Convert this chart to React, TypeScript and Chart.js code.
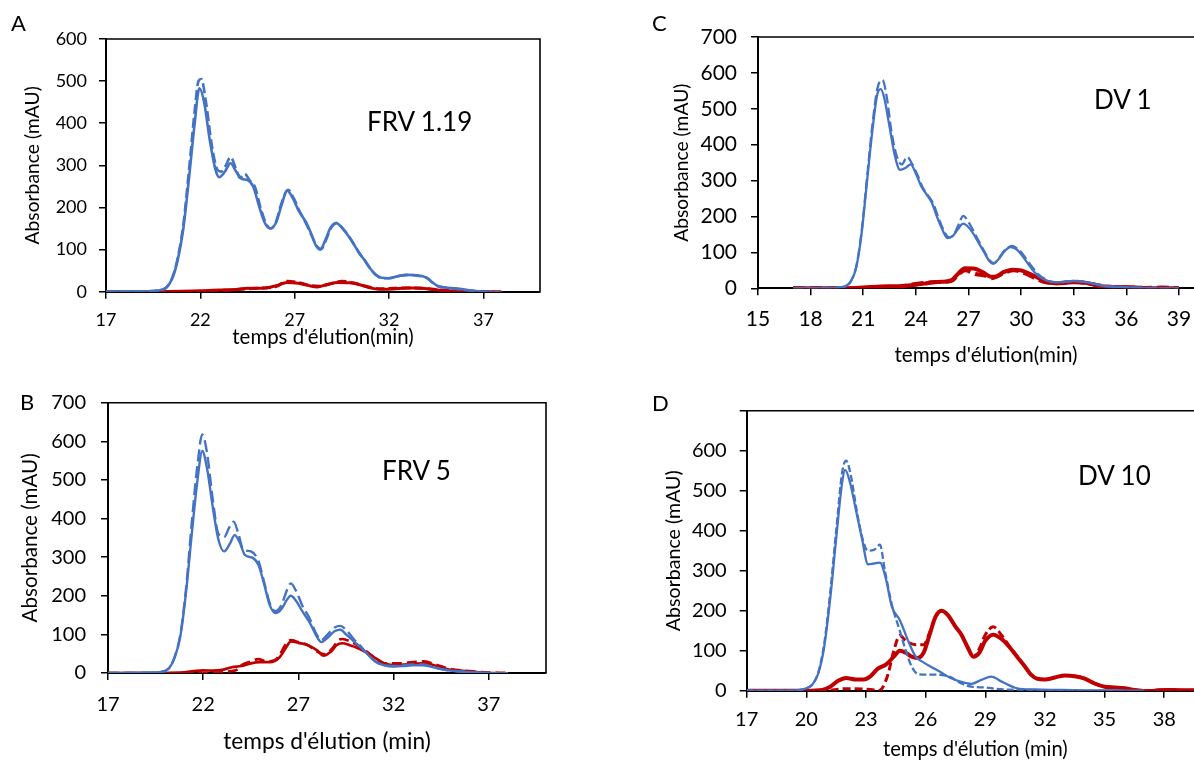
import React, { useEffect, useRef } from "react";
import { Chart, registerables } from "chart.js";

Chart.register(...registerables);

type Pt = [number, number];

const BLUE = "#4472C4";
const RED = "#C00000";
const FONT = "Lato, 'Open Sans', sans-serif";

// ---------------- Tick labels ----------------
const A_X_TICKS = [17, 22, 27, 32, 37];
const A_Y_TICKS = [0, 100, 200, 300, 400, 500, 600];
const B_X_TICKS = [17, 22, 27, 32, 37];
const B_Y_TICKS = [0, 100, 200, 300, 400, 500, 600, 700];
const C_X_TICKS = [15, 18, 21, 24, 27, 30, 33, 36, 39];
const C_Y_TICKS = [0, 100, 200, 300, 400, 500, 600, 700];
const D_X_TICKS = [17, 20, 23, 26, 29, 32, 35, 38];
const D_Y_TICKS = [0, 100, 200, 300, 400, 500, 600, 700];
const D_Y_HIDDEN = [700];

// ---------------- Panel A : FRV 1.19 ----------------
const A_BLUE_SOLID: Pt[] = [[17,0],[18,1],[19,1],[19.8,3],[20.2,10],[20.5,30],[20.8,75],[21.1,150],[21.4,270],[21.7,400],[21.95,483],[22.2,450],[22.5,360],[22.8,290],[23.0,272],[23.3,285],[23.6,305],[23.9,285],[24.2,268],[24.5,265],[24.8,250],[25.1,205],[25.4,165],[25.7,150],[26.0,163],[26.3,205],[26.6,240],[26.9,222],[27.2,193],[27.6,165],[27.9,135],[28.1,112],[28.35,100],[28.6,120],[28.9,152],[29.2,163],[29.5,152],[29.8,135],[30.1,115],[30.4,93],[30.7,75],[31.0,55],[31.3,40],[31.6,33],[32.0,32],[32.5,37],[33.0,40],[33.5,39],[34.0,33],[34.3,22],[34.6,13],[35.0,10],[35.5,8],[36.0,5],[36.5,2],[37.0,0],[37.5,-1],[37.8,-2]];
const A_BLUE_DASH: Pt[] = [[17,0],[18,1],[19,1],[19.8,3],[20.2,10],[20.5,32],[20.8,80],[21.1,160],[21.4,290],[21.7,430],[21.9,500],[22.05,505],[22.3,450],[22.6,350],[22.9,290],[23.1,285],[23.35,300],[23.6,320],[23.9,290],[24.1,270],[24.35,280],[24.6,265],[24.9,248],[25.2,198],[25.5,160],[25.75,150],[26.0,165],[26.3,210],[26.65,242],[26.95,222],[27.25,192],[27.6,162],[27.9,133],[28.15,110],[28.4,101],[28.65,122],[28.95,153],[29.25,163],[29.55,150],[29.85,133],[30.15,112],[30.45,90],[30.75,72],[31.05,52],[31.35,38],[31.65,32],[32.0,32],[32.5,37],[33.0,40],[33.5,38],[34.0,33],[34.3,22],[34.6,13],[35.0,10],[35.5,7],[36.0,4],[36.5,2],[37.0,0],[37.5,-1],[38.0,-2]];
const A_RED_SOLID: Pt[] = [[17,0],[19,0],[21,1],[22,2],[23,4],[24,6],[24.5,8],[25,8],[25.5,9],[26,14],[26.6,22],[27.2,20],[27.7,15],[28.2,11],[28.7,17],[29.3,22],[29.9,21],[30.5,16],[31.0,9],[31.5,6],[32.0,6],[33.0,9],[33.6,9],[34.2,6],[35.0,2],[36.0,1],[37.0,0],[37.6,0]];
const A_RED_DASH: Pt[] = [[17,0],[22,0],[23,1],[24,5],[25,8],[26,12],[26.6,25],[27.2,22],[27.8,15],[28.3,13],[29.0,20],[29.5,25],[30.0,22],[30.6,15],[31.5,7],[33,9],[34,7],[35,3],[36,1],[37,0],[38,0]];

// ---------------- Panel B : FRV 5 ----------------
const B_BLUE_SOLID: Pt[] = [[17,0],[19,1],[19.8,3],[20.2,12],[20.5,40],[20.8,95],[21.1,210],[21.4,360],[21.7,500],[21.95,575],[22.2,530],[22.5,430],[22.8,345],[23.1,315],[23.4,335],[23.65,357],[23.9,340],[24.2,305],[24.6,298],[24.9,280],[25.2,230],[25.5,175],[25.8,155],[26.1,165],[26.4,190],[26.6,200],[26.9,185],[27.2,160],[27.6,130],[27.9,100],[28.2,80],[28.5,90],[28.9,108],[29.2,112],[29.5,100],[29.9,82],[30.3,65],[30.7,45],[31.1,28],[31.5,20],[32.0,17],[32.5,18],[33.0,20],[33.5,20],[34.0,16],[34.5,10],[35.0,6],[35.5,4],[36.0,2],[36.5,1],[37.0,0],[37.6,-1],[38.0,-1]];
const B_BLUE_DASH: Pt[] = [[17,0],[19,1],[19.8,3],[20.2,12],[20.5,42],[20.8,100],[21.1,220],[21.4,390],[21.7,540],[21.95,618],[22.2,570],[22.5,450],[22.8,360],[23.1,352],[23.35,375],[23.6,392],[23.85,360],[24.1,320],[24.5,315],[24.9,290],[25.2,235],[25.5,180],[25.8,160],[26.1,175],[26.4,215],[26.6,232],[26.9,210],[27.2,175],[27.6,140],[27.9,105],[28.2,85],[28.5,98],[28.9,118],[29.2,122],[29.5,112],[29.9,88],[30.3,68],[30.7,45],[31.1,28],[31.5,20],[32.0,18],[32.5,20],[33.0,22],[33.5,22],[34.0,17],[34.5,10],[35.0,6],[35.5,4],[36.0,2],[36.5,1],[37.0,0],[37.6,-1],[38.0,-1]];
const B_RED_SOLID: Pt[] = [[17,0],[20,0],[21,2],[21.5,5],[22,7],[22.5,6],[23,8],[23.5,15],[24,18],[24.5,25],[25,28],[25.5,28],[26,40],[26.4,70],[26.6,82],[27,78],[27.5,72],[28,58],[28.3,45],[28.7,55],[29,72],[29.3,77],[29.7,72],[30.1,65],[30.5,55],[31,40],[31.5,25],[32,20],[32.5,22],[33,24],[33.5,25],[34,22],[34.5,14],[35,8],[35.5,6],[36,4],[36.5,2],[37,0],[37.5,0]];
const B_RED_DASH: Pt[] = [[17,0],[22,0],[23,2],[23.5,5],[23.75,8],[24,20],[24.5,30],[24.9,36],[25.3,30],[25.7,32],[26,45],[26.3,72],[26.6,85],[27,80],[27.5,72],[28,55],[28.4,48],[28.8,65],[29.1,85],[29.3,88],[29.8,80],[30.4,62],[31,40],[31.5,25],[32.3,25],[33,28],[33.6,30],[34.2,22],[35,10],[36,5],[37,1],[38,0]];

// ---------------- Panel C : DV 1 ----------------
const C_BLUE_SOLID: Pt[] = [[17,0],[19,1],[19.5,2],[20,6],[20.3,20],[20.6,58],[20.9,150],[21.2,290],[21.5,430],[21.8,540],[22.0,555],[22.2,530],[22.5,450],[22.8,370],[23.1,330],[23.4,335],[23.7,345],[24.0,320],[24.3,285],[24.6,262],[24.9,240],[25.2,200],[25.5,165],[25.8,140],[26.1,145],[26.4,165],[26.7,180],[27.0,170],[27.3,150],[27.6,125],[27.9,100],[28.2,75],[28.4,68],[28.7,80],[29.0,100],[29.4,115],[29.7,110],[30.0,95],[30.3,75],[30.6,55],[30.9,38],[31.3,25],[31.7,18],[32.2,17],[33.0,20],[33.6,18],[34.2,12],[34.8,6],[35.5,4],[36.5,2],[37.5,0],[38.5,0],[39.0,0]];
const C_BLUE_DASH: Pt[] = [[17,0],[19,1],[19.5,2],[20,6],[20.3,20],[20.6,60],[20.9,155],[21.2,300],[21.5,445],[21.8,555],[22.1,580],[22.35,530],[22.6,440],[22.9,370],[23.2,345],[23.5,366],[23.8,345],[24.1,315],[24.4,280],[24.7,258],[25.0,235],[25.3,195],[25.6,160],[25.9,142],[26.2,152],[26.5,185],[26.7,202],[27.0,185],[27.3,158],[27.6,130],[27.9,103],[28.2,78],[28.45,70],[28.75,85],[29.1,108],[29.5,118],[29.8,110],[30.1,95],[30.4,75],[30.7,55],[31.0,38],[31.4,25],[31.8,18],[32.3,17],[33.0,21],[33.6,18],[34.2,12],[34.8,6],[35.5,4],[36.5,2],[37.5,1],[38.5,0],[39.0,0]];
const C_RED_SOLID: Pt[] = [[17,0],[20,0],[21,2],[22,5],[23,6],[24,10],[24.5,13],[25,17],[25.5,18],[26,22],[26.4,40],[26.8,56],[27.3,55],[27.8,45],[28.3,32],[28.6,33],[29,45],[29.5,52],[30,50],[30.5,40],[31,28],[31.5,18],[32,14],[32.5,15],[33,17],[33.5,16],[34,12],[34.5,6],[35,4],[36,3],[37,1],[38,0],[39,0]];
const C_RED_DASH: Pt[] = [[17,0],[22,0],[23,2],[23.5,8],[24,12],[25,17],[26,20],[26.5,42],[26.8,50],[27.4,40],[28,35],[28.3,28],[29,42],[29.6,50],[30.2,42],[30.8,28],[31.3,18],[32,14],[33,18],[34,12],[35,4],[36,3],[37,1],[38,2],[39,0]];

// ---------------- Panel D : DV 10 ----------------
const D_BLUE_SOLID: Pt[] = [[17,0],[19,0],[19.7,2],[20,6],[20.3,15],[20.6,43],[20.9,110],[21.2,230],[21.5,380],[21.8,520],[21.95,552],[22.2,520],[22.5,450],[22.8,380],[23.1,316],[23.4,318],[23.7,320],[24.0,280],[24.3,210],[24.7,177],[25.1,127],[25.5,85],[25.85,72],[26.4,56],[26.8,45],[27.2,33],[27.8,22],[28.3,17],[28.8,27],[29.3,35],[29.85,22],[30.6,6],[31.5,3],[32.5,2],[34.0,1],[35.0,1],[36.0,0],[37,0]];
const D_BLUE_DASH: Pt[] = [[17,0],[19,0],[19.7,2],[20,6],[20.3,16],[20.6,46],[20.9,118],[21.2,245],[21.5,400],[21.8,545],[22.0,575],[22.25,535],[22.5,460],[22.8,385],[23.1,350],[23.4,352],[23.7,365],[23.95,300],[24.3,215],[24.7,150],[25.0,100],[25.3,60],[25.6,42],[26.0,40],[26.6,40],[27.2,35],[27.8,18],[28.3,10],[29.0,8],[29.5,5],[30,3],[31,2],[32,0],[36,0]];
const D_RED_SOLID: Pt[] = [[17,0],[20,0],[20.8,2],[21.2,10],[21.6,25],[22.0,32],[22.5,28],[22.9,28],[23.2,35],[23.6,55],[24.0,65],[24.4,85],[24.7,100],[25.0,95],[25.3,85],[25.6,82],[25.9,95],[26.2,140],[26.5,185],[26.8,200],[27.1,190],[27.5,160],[27.8,140],[28.1,110],[28.4,85],[28.7,95],[29.0,125],[29.4,140],[29.8,130],[30.2,110],[30.6,85],[31.0,60],[31.3,40],[31.6,30],[32.0,28],[32.5,33],[33.0,38],[33.5,36],[34.0,30],[34.5,18],[35.0,10],[35.5,8],[36.0,6],[36.5,2],[37.0,-1],[37.5,0],[38.0,2],[39.0,1],[40,1]];
const D_RED_DASH: Pt[] = [[17,0],[21,0],[21.5,3],[22,5],[23,4],[23.4,2],[23.6,0],[23.8,5],[24.1,40],[24.4,100],[24.7,138],[25.0,125],[25.5,115],[25.9,115],[26.2,145],[26.5,185],[26.8,200],[27.1,190],[27.5,160],[27.8,140],[28.1,110],[28.4,85],[28.7,105],[29.0,140],[29.4,160],[29.8,140],[30.2,112],[30.6,85],[31.0,60],[31.3,40],[31.6,30],[32.0,28],[32.5,33],[33.0,38],[33.5,36],[34.0,30],[34.5,18],[35.0,10],[35.5,8],[36.0,6],[36.5,2],[37.0,-1],[37.5,0],[38.0,2],[39.0,1],[40,1]];

// ---------------- Panel configuration ----------------
interface SeriesDef { data: Pt[]; color: string; width: number; dash: number[] }
interface PanelDef {
  key: string;
  letter: string; letterPos: [number, number];
  label: string; labelPos: [number, number];
  canvas: { left: number; top: number; w: number; h: number };
  padTop: number; padRight: number; yAxisW: number; xAxisH: number;
  xMin: number; xMax: number; yMax: number;
  xTicks: number[]; yTicks: number[]; yHidden: number[];
  tickFont: number; xTitleFont: number; yTitleFont: number;
  xTickPad: number; yTickPad: number; xTitlePadBottom: number; yTitlePadTop: number;
  xTitle: string;
  series: SeriesDef[];
}

const PANELS: PanelDef[] = [
  {
    key: "A", letter: "A", letterPos: [11, 12.2], label: "FRV 1.19", labelPos: [367, 108],
    canvas: { left: 0, top: 0, w: 560, h: 350 },
    padTop: 39, padRight: 20, yAxisW: 106, xAxisH: 58.3,
    xMin: 17, xMax: 40, yMax: 600, xTicks: A_X_TICKS, yTicks: A_Y_TICKS, yHidden: [],
    tickFont: 18, xTitleFont: 20.4, yTitleFont: 19.3, xTickPad: 10.5, yTickPad: 12, xTitlePadBottom: 0.8, yTitlePadTop: 21.4,
    xTitle: "temps d'élution(min)",
    series: [
      { data: A_BLUE_SOLID, color: BLUE, width: 2.6, dash: [] },
      { data: A_BLUE_DASH, color: BLUE, width: 2.6, dash: [10, 4] },
      { data: A_RED_SOLID, color: RED, width: 3, dash: [] },
      { data: A_RED_DASH, color: RED, width: 3, dash: [9, 4] },
    ],
  },
  {
    key: "B", letter: "B", letterPos: [20, 390.5], label: "FRV 5", labelPos: [382, 457],
    canvas: { left: 0, top: 370, w: 566, h: 392 },
    padTop: 32.7, padRight: 20, yAxisW: 108, xAxisH: 89,
    xMin: 17, xMax: 40, yMax: 700, xTicks: B_X_TICKS, yTicks: B_Y_TICKS, yHidden: [],
    tickFont: 20, xTitleFont: 22.7, yTitleFont: 20.6, xTickPad: 13, yTickPad: 15, xTitlePadBottom: 6.4, yTitlePadTop: 17.6,
    xTitle: "temps d'élution (min)",
    series: [
      { data: B_BLUE_SOLID, color: BLUE, width: 2.4, dash: [] },
      { data: B_BLUE_DASH, color: BLUE, width: 2.4, dash: [12, 5] },
      { data: B_RED_SOLID, color: RED, width: 2.7, dash: [] },
      { data: B_RED_DASH, color: RED, width: 2.7, dash: [10, 5] },
    ],
  },
  {
    key: "C", letter: "C", letterPos: [652, 12.2], label: "DV 1", labelPos: [1094, 86],
    canvas: { left: 600, top: 0, w: 634, h: 370 },
    padTop: 37, padRight: 20, yAxisW: 158, xAxisH: 81.7,
    xMin: 15, xMax: 41, yMax: 700, xTicks: C_X_TICKS, yTicks: C_Y_TICKS, yHidden: [],
    tickFont: 21, xTitleFont: 20.6, yTitleFont: 19.3, xTickPad: 11.1, yTickPad: 14, xTitlePadBottom: 2.6, yTitlePadTop: 70.4,
    xTitle: "temps d'élution(min)",
    series: [
      { data: C_BLUE_SOLID, color: BLUE, width: 2.3, dash: [] },
      { data: C_BLUE_DASH, color: BLUE, width: 2.3, dash: [10, 4] },
      { data: C_RED_SOLID, color: RED, width: 4, dash: [] },
      { data: C_RED_DASH, color: RED, width: 4, dash: [12, 5] },
    ],
  },
  {
    key: "D", letter: "D", letterPos: [652, 392.2], label: "DV 10", labelPos: [1078, 462],
    canvas: { left: 600, top: 380, w: 624, h: 382 },
    padTop: 30.7, padRight: 20, yAxisW: 146.7, xAxisH: 71.3,
    xMin: 17, xMax: 40, yMax: 700, xTicks: D_X_TICKS, yTicks: D_Y_TICKS, yHidden: D_Y_HIDDEN,
    tickFont: 20, xTitleFont: 20.2, yTitleFont: 19.6, xTickPad: 9.6, yTickPad: 13, xTitlePadBottom: 0, yTitlePadTop: 62.2,
    xTitle: "temps d'élution (min)",
    series: [
      { data: D_BLUE_SOLID, color: BLUE, width: 2.3, dash: [] },
      { data: D_BLUE_DASH, color: BLUE, width: 2.3, dash: [7, 3] },
      { data: D_RED_SOLID, color: RED, width: 4, dash: [] },
      { data: D_RED_DASH, color: RED, width: 3, dash: [8, 4] },
    ],
  },
];

const boxPlugin = {
  id: "plotBox",
  beforeDatasetsDraw(chart: any) {
    const { ctx, chartArea: a } = chart;
    ctx.save();
    ctx.strokeStyle = "#000";
    ctx.lineWidth = 1.6;
    ctx.beginPath();
    ctx.moveTo(a.left, a.top);
    ctx.lineTo(a.right, a.top);
    ctx.lineTo(a.right, a.bottom);
    ctx.stroke();
    ctx.restore();
  },
};

function Panel({ p }: { p: PanelDef }) {
  const ref = useRef<HTMLCanvasElement | null>(null);
  useEffect(() => {
    if (!ref.current) return;
    const chart = new Chart(ref.current, {
      type: "line",
      data: {
        datasets: p.series.map((s) => ({
          data: s.data.map(([x, y]) => ({ x, y })),
          borderColor: s.color,
          backgroundColor: s.color,
          borderWidth: s.width,
          borderDash: s.dash,
          pointRadius: 0,
          pointHoverRadius: 0,
          fill: false,
          cubicInterpolationMode: "monotone",
          borderCapStyle: "butt",
        })),
      },
      options: {
        animation: false,
        responsive: false,
        maintainAspectRatio: false,
        devicePixelRatio: 1,
        events: [],
        layout: { padding: { left: 0, top: p.padTop, right: p.padRight, bottom: 0 } },
        plugins: { legend: { display: false }, tooltip: { enabled: false } },
        scales: {
          x: {
            type: "linear",
            min: p.xMin,
            max: p.xMax,
            afterBuildTicks: (s: any) => { s.ticks = p.xTicks.map((v) => ({ value: v })); },
            afterFit: (s: any) => { s.height = p.xAxisH; },
            grid: { drawOnChartArea: false, drawTicks: true, tickLength: 7, color: "#000", lineWidth: 1.5 },
            border: { display: true, color: "#000", width: 2 },
            ticks: { color: "#000", font: { family: FONT, size: p.tickFont }, padding: p.xTickPad, maxRotation: 0, autoSkip: false },
            title: {
              display: true, text: p.xTitle, color: "#000",
              font: { family: FONT, size: p.xTitleFont },
              padding: { top: 0, bottom: p.xTitlePadBottom },
            },
          },
          y: {
            type: "linear",
            min: 0,
            max: p.yMax,
            afterBuildTicks: (s: any) => { s.ticks = p.yTicks.map((v) => ({ value: v })); },
            afterFit: (s: any) => { s.width = p.yAxisW; },
            grid: { drawOnChartArea: false, drawTicks: true, tickLength: 7, color: "#000", lineWidth: 1.5 },
            border: { display: true, color: "#000", width: 2 },
            ticks: {
              color: "#000", font: { family: FONT, size: p.tickFont }, padding: p.yTickPad, autoSkip: false,
              callback: (v: any) => (p.yHidden.includes(Number(v)) ? "" : String(v)),
            },
            title: {
              display: true, text: "Absorbance (mAU)", color: "#000",
              font: { family: FONT, size: p.yTitleFont },
              padding: { top: p.yTitlePadTop, bottom: 0 },
            },
          },
        },
      } as any,
      plugins: [boxPlugin],
    });
    return () => chart.destroy();
  }, [p]);

  return (
    <canvas
      ref={ref}
      width={p.canvas.w}
      height={p.canvas.h}
      style={{ position: "absolute", left: p.canvas.left, top: p.canvas.top, width: p.canvas.w, height: p.canvas.h }}
    />
  );
}

function TextAt({ text, left, top, size }: { text: string; left: number; top: number; size: number }) {
  return (
    <div
      style={{
        position: "absolute", left, top, fontFamily: FONT, fontSize: size, lineHeight: `${size}px`,
        color: "#000", whiteSpace: "nowrap",
      }}
    >
      {text}
    </div>
  );
}

export default function App() {
  return (
    <div style={{ position: "fixed", left: 0, top: 0, width: 1194, height: 762, overflow: "hidden", background: "#fff" }}>
      {PANELS.map((p) => (
        <Panel key={p.key} p={p} />
      ))}
      {PANELS.map((p) => (
        <React.Fragment key={p.key + "t"}>
          <TextAt text={p.letter} left={p.letterPos[0]} top={p.letterPos[1]} size={22} />
          <TextAt text={p.label} left={p.labelPos[0]} top={p.labelPos[1]} size={26} />
        </React.Fragment>
      ))}
    </div>
  );
}
